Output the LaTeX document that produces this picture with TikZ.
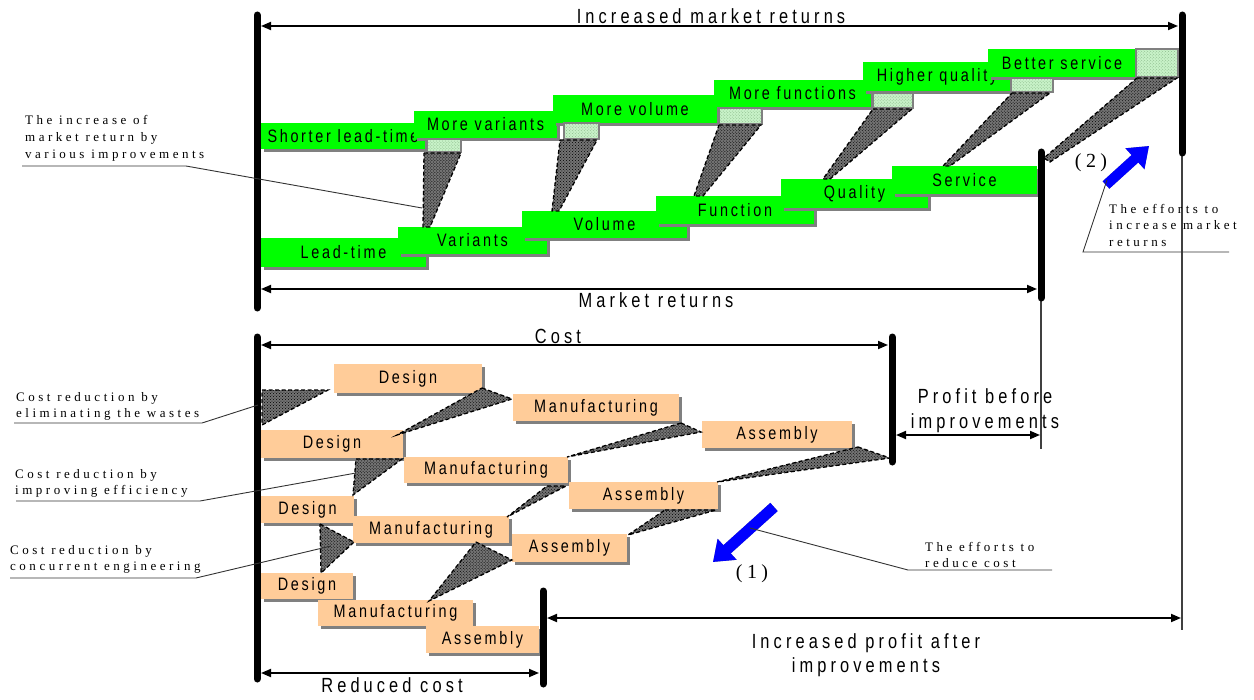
\documentclass[tikz,border=0pt]{standalone}
\usepackage{fontspec}
\setmainfont{Liberation Serif}
\newfontfamily\labfont[FakeStretch=0.8,LetterSpace=15]{Liberation Sans}
\newfontfamily\bigfont[FakeStretch=0.8,LetterSpace=20]{Liberation Sans}
\newfontfamily\notefont[LetterSpace=27]{Liberation Serif}
\newfontfamily\tagfont[LetterSpace=22]{Liberation Serif}
\usetikzlibrary{arrows.meta,patterns,shadows}

\definecolor{boxgreen}{HTML}{00FF00}
\definecolor{peach}{HTML}{FFCC99}
\definecolor{shadowgray}{HTML}{808080}
\definecolor{effortblue}{HTML}{0000FF}
\definecolor{palegreen}{HTML}{C8F2C8}

\tikzset{
  boxlabel/.style={font=\labfont\fontsize{18bp}{20bp}\selectfont},
  biglabel/.style={font=\bigfont\fontsize{20.5bp}{25bp}\selectfont,inner sep=0},
  note/.style={font=\notefont\fontsize{13bp}{16.6bp}\selectfont,inner sep=0,align=left},
  tag/.style={font=\tagfont\fontsize{20bp}{22bp}\selectfont,inner sep=0},
  procshadow/.style={drop shadow={shadow xshift=3bp,shadow yshift=-3bp,fill=shadowgray,opacity=1}},
  gbox/.style={rectangle,fill=boxgreen,inner sep=0,boxlabel,procshadow},
  obox/.style={rectangle,fill=peach,inner sep=0,boxlabel,procshadow},
  litebox/.style={draw=shadowgray,line width=1.6bp,preaction={fill=palegreen},
    pattern=crosshatch dots,pattern color=green!40!black!45},
  wedge/.style={draw=black,line width=1.3bp,dash pattern=on 4bp off 2.5bp,
    preaction={fill=black!55},pattern=crosshatch dots,pattern color=black},
  bar/.style={line width=7bp,line cap=round},
  dim/.style={line width=1.8bp,{Triangle[length=10bp,width=8bp]}-{Triangle[length=10bp,width=8bp]}},
  guide/.style={line width=1.2bp,black!75},
  leader/.style={line width=0.9bp,black!80},
  effort/.style={line width=11bp,effortblue,-{Triangle[length=19bp,width=27bp]}},
  effortshade/.style={line width=11bp,shadowgray,-{Triangle[length=19bp,width=27bp]}},
}

% process box: style, name, x1, y1, x2, y2, text
\newcommand\procbox[7]{%
  \node[#1,minimum width={(#5-#3)*1bp},minimum height={(#6-#4)*1bp}]
    (#2) at ({(#3+#5)/2},{(#4+#6)/2}) {\makebox[0pt]{#7}};}

\begin{document}
\begin{tikzpicture}[x=1bp,y=-1bp]
\useasboundingbox (0,0) rectangle (1254,700);

% ---------- market returns: improved row ----------
\procbox{gbox}{shorter}{261}{123}{425}{149}{Shorter lead-time}
\procbox{gbox}{morevar}{414}{111}{557}{138}{More variants}
\procbox{gbox}{morevol}{553}{95}{717}{123}{More volume}
\procbox{gbox}{morefun}{714}{80}{871}{107}{More functions}
\procbox{gbox}{higherq}{863}{62}{1011}{91}{Higher quality}
\procbox{gbox}{betters}{988}{49}{1136}{77}{Better service}

% gains of each improvement
\draw[litebox] (427,139) rectangle (461,152);
\draw[litebox] (564,123) rectangle (599,139);
\draw[litebox] (719,108) rectangle (762,124);
\draw[litebox] (873,93) rectangle (913,108);
\draw[litebox] (1011,78) rectangle (1053,92);
\draw[litebox] (1136,49) rectangle (1178,77);

% ---------- market returns: original row ----------
\procbox{gbox}{leadtime}{261}{238}{426}{267}{Lead-time}
\procbox{gbox}{variants}{398}{227}{547}{254}{Variants}
\procbox{gbox}{volume}{522}{211}{687}{238}{Volume}
\procbox{gbox}{function}{656}{196}{814}{224}{Function}
\procbox{gbox}{quality}{781}{179}{928}{208}{Quality}
\procbox{gbox}{service}{892}{166}{1037}{194}{Service}

% increase wedges
\draw[wedge] (424,153) -- (461,153) -- (430,227) -- (423,227) -- cycle;
\draw[wedge] (560,140) -- (597,140) -- (559,211) -- (552,211) -- cycle;
\draw[wedge] (719,125) -- (761,125) -- (703,196) -- (694,196) -- cycle;
\draw[wedge] (873,109) -- (912,109) -- (830,179) -- (823,179) -- cycle;
\draw[wedge] (1012,93) -- (1050,93) -- (950,166) -- (943,166) -- cycle;
\draw[wedge] (1137,78) -- (1177,78) -- (1050,162) -- (1044,158) -- cycle;

% ---------- cost: four process variants ----------
\procbox{obox}{designA}{334}{364}{482}{393}{Design}
\procbox{obox}{manufA}{513}{394}{679}{421}{Manufacturing}
\procbox{obox}{assemA}{702}{421}{852}{448}{Assembly}

\procbox{obox}{designB}{261}{430}{403}{458}{Design}
\procbox{obox}{manufB}{404}{457}{568}{483}{Manufacturing}
\procbox{obox}{assemB}{569}{482}{718}{509}{Assembly}

\procbox{obox}{designC}{261}{496}{354}{523}{Design}
\procbox{obox}{manufC}{353}{516}{509}{543}{Manufacturing}
\procbox{obox}{assemC}{512}{534}{627}{562}{Assembly}

\procbox{obox}{designD}{261}{573}{353}{599}{Design}
\procbox{obox}{manufD}{318}{600}{473}{626}{Manufacturing}
\procbox{obox}{assemD}{426}{626}{539}{653}{Assembly}

% reduction wedges
\draw[wedge] (262,390) -- (328,390) -- (262,425) -- cycle;
\draw[wedge] (482,388) -- (512,399) -- (397,435) -- cycle;
\draw[wedge] (681,423) -- (701,432) -- (567,457) -- cycle;
\draw[wedge] (858,447) -- (890,458) -- (717,482) -- cycle;
\draw[wedge] (356,459) -- (402,459) -- (353,495) -- cycle;
\draw[wedge] (547,486) -- (566,486) -- (507,517) -- cycle;
\draw[wedge] (665,510) -- (716,510) -- (628,535) -- cycle;
\draw[wedge] (320,524) -- (354,542) -- (321,573) -- cycle;
\draw[wedge] (476,542) -- (512,560) -- (429,601) -- cycle;

% ---------- bars and guide lines ----------
\coordinate (mktL-top) at (257,15);   \coordinate (mktL-bot) at (257,308);
\coordinate (incR-top) at (1182,15);  \coordinate (incR-bot) at (1182,153);
\coordinate (mktR-top) at (1041,152); \coordinate (mktR-bot) at (1041,298);
\coordinate (costL-top) at (257,337); \coordinate (costL-bot) at (257,679);
\coordinate (costR-top) at (892,337); \coordinate (costR-bot) at (892,462);
\coordinate (redR-top) at (543,591);  \coordinate (redR-bot) at (543,684);
\coordinate (incR-end) at (1182,630); \coordinate (mktR-end) at (1041,449);

\draw[guide] (incR-bot) -- (incR-end);
\draw[guide] (mktR-bot) -- (mktR-end);

\draw[bar] (mktL-top) -- (mktL-bot);
\draw[bar] (incR-top) -- (incR-bot);
\draw[bar] (mktR-top) -- (mktR-bot);
\draw[bar] (costL-top) -- (costL-bot);
\draw[bar] (costR-top) -- (costR-bot);
\draw[bar] (redR-top) -- (redR-bot);

% ---------- dimension arrows ----------
\coordinate (incA-l) at (261,26);  \coordinate (incA-r) at (1178,26);
\coordinate (mktA-l) at (261,289); \coordinate (mktA-r) at (1037,289);
\coordinate (costA-l) at (261,345); \coordinate (costA-r) at (888,345);
\coordinate (prfA-l) at (896,435); \coordinate (prfA-r) at (1040,435);
\coordinate (redA-l) at (261,673); \coordinate (redA-r) at (539,673);
\coordinate (aftA-l) at (547,618); \coordinate (aftA-r) at (1181,618);

\draw[dim] (incA-l) -- (incA-r);
\draw[dim] (mktA-l) -- (mktA-r);
\draw[dim] (costA-l) -- (costA-r);
\draw[dim] (prfA-l) -- (prfA-r);
\draw[dim] (redA-l) -- (redA-r);
\draw[dim] (aftA-l) -- (aftA-r);

\node[biglabel,anchor=base] (incLabel) at (711,24) {Increased market returns};
\node[biglabel,anchor=base] (mktLabel) at (656,307) {Market returns};
\node[biglabel,anchor=base] (costLabel) at (558,343) {Cost};
\node[biglabel,anchor=base] (redLabel) at (392,692) {Reduced cost};
\node[biglabel,align=center,anchor=north] (prfLabel) at (985,388.5) {Profit before\\improvements};
\node[biglabel,align=center,anchor=north,font=\bigfont\fontsize{20.5bp}{24bp}\selectfont] (aftLabel) at (866,633.5) {Increased profit after\\improvements};

% ---------- effort arrows ----------
\coordinate (eff1-tail) at (774,507); \coordinate (eff1-tip) at (713,562);
\coordinate (eff2-tail) at (1106,185); \coordinate (eff2-tip) at (1149,146);
\draw[effortshade,shift={(3,3)}] (eff1-tail) -- (eff1-tip);
\draw[effort] (eff1-tail) -- (eff1-tip);
\draw[effortshade,shift={(3,3)},line width=10bp] (eff2-tail) -- (eff2-tip);
\draw[effort,line width=10bp] (eff2-tail) -- (eff2-tip);

\node[tag,anchor=base] (tag1) at (752,578) {(1)};
\node[tag,anchor=base] (tag2) at (1091,168) {(2)};

% ---------- annotations ----------
\node[note,anchor=north west] (noteInc) at (25,115.5) {The increase of\\market return by\\various improvements};
\node[note,anchor=north west] (noteWaste) at (16,392) {Cost reduction by\\eliminating the wastes};
\node[note,anchor=north west] (noteEff) at (15,469) {Cost reduction by\\improving efficiency};
\node[note,anchor=north west] (noteConc) at (10,545) {Cost reduction by\\concurrent engineering};
\node[note,anchor=north west] (noteRed) at (925,542) {The efforts to\\reduce cost};
\node[note,anchor=north west] (noteMkt) at (1109,204) {The efforts to\\increase market\\returns};

\coordinate (noteInc-a) at (22,166);  \coordinate (noteInc-b) at (186,166);  \coordinate (noteInc-c) at (422,208);
\coordinate (noteWaste-a) at (14,423); \coordinate (noteWaste-b) at (202,423); \coordinate (noteWaste-c) at (258,405);
\coordinate (noteEff-a) at (16,501);  \coordinate (noteEff-b) at (200,501);  \coordinate (noteEff-c) at (356,473);
\coordinate (noteConc-a) at (10,578); \coordinate (noteConc-b) at (196,578); \coordinate (noteConc-c) at (331,546);
\coordinate (noteRed-a) at (1052,570); \coordinate (noteRed-b) at (908,570); \coordinate (noteRed-c) at (750,528);
\coordinate (noteMkt-a) at (1229,252); \coordinate (noteMkt-b) at (1083,252); \coordinate (noteMkt-c) at (1107,180);

\draw[leader] (noteInc-a) -- (noteInc-b) -- (noteInc-c);
\draw[leader] (noteWaste-a) -- (noteWaste-b) -- (noteWaste-c);
\draw[leader] (noteEff-a) -- (noteEff-b) -- (noteEff-c);
\draw[leader] (noteConc-a) -- (noteConc-b) -- (noteConc-c);
\draw[leader] (noteRed-a) -- (noteRed-b) -- (noteRed-c);
\draw[leader] (noteMkt-a) -- (noteMkt-b) -- (noteMkt-c);
\end{tikzpicture}
\end{document}
